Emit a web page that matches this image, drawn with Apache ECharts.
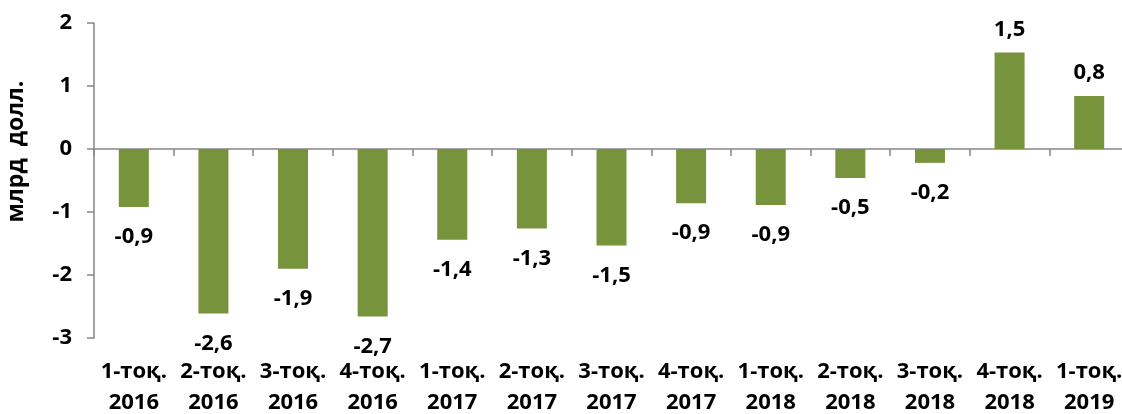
<!DOCTYPE html>
<html>
<head>
<meta charset="utf-8">
<script src="https://cdn.jsdelivr.net/npm/echarts@6/dist/echarts.min.js"></script>
<style>
  html, body { margin: 0; padding: 0; background: #fff; }
  #chart { width: 1122px; height: 414px; }
</style>
</head>
<body>
<div id="chart"></div>
<script>
// кварталы
const quarters = ['1-тоқ.', '2-тоқ.', '3-тоқ.', '4-тоқ.', '1-тоқ.', '2-тоқ.', '3-тоқ.', '4-тоқ.', '1-тоқ.', '2-тоқ.', '3-тоқ.', '4-тоқ.', '1-тоқ.']
const years = ['2016', '2016', '2016', '2016', '2017', '2017', '2017', '2017', '2018', '2018', '2018', '2018', '2019']
// сальдо, млрд долл.
const balance = [-0.92, -2.61, -1.9, -2.66, -1.44, -1.26, -1.53, -0.86, -0.89, -0.46, -0.22, 1.53, 0.84]
const yTicks = { min: -3, max: 2, interval: 1 }

const categories = quarters.map((q, i) => q + '\n' + years[i])
const fontFamily = '"Open Sans", "Liberation Sans", sans-serif'

const chart = echarts.init(document.getElementById('chart'))
chart.setOption({
  backgroundColor: '#fff',
  animation: false,
  grid: {
    left: 94,
    right: -7,
    top: 23,
    bottom: 76,
    outerBoundsMode: 'none'
  },
  xAxis: [
    {
      // линия нуля с засечками
      type: 'category',
      position: 'bottom',
      data: categories,
      axisLine: { onZero: true, lineStyle: { color: '#868686', width: 1.5 } },
      axisTick: { show: true, length: 7, lineStyle: { color: '#868686', width: 1.5 } },
      axisLabel: { show: false }
    },
    {
      // подписи внизу
      type: 'category',
      position: 'bottom',
      data: categories,
      axisLine: { show: false, onZero: false },
      axisTick: { show: false },
      axisLabel: {
        color: '#000',
        fontSize: 22,
        fontWeight: 'bold',
        fontFamily: fontFamily,
        lineHeight: 31,
        margin: 18,
        interval: 0
      }
    }
  ],
  yAxis: {
    type: 'value',
    min: yTicks.min,
    max: yTicks.max,
    interval: yTicks.interval,
    name: 'млрд  долл.',
    nameLocation: 'middle',
    nameGap: 66,
    nameTextStyle: {
      color: '#000',
      fontSize: 23,
      fontWeight: 'bold',
      fontFamily: fontFamily,
      padding: [0, 0, 0, 58]
    },
    axisLine: { show: true, lineStyle: { color: '#868686', width: 1.5 } },
    axisTick: { show: true, length: 7, lineStyle: { color: '#868686', width: 1.5 } },
    splitLine: { show: false },
    axisLabel: {
      color: '#000',
      fontSize: 22,
      fontWeight: 'bold',
      fontFamily: fontFamily,
      margin: 22
    }
  },
  series: [
    {
      type: 'bar',
      xAxisIndex: 0,
      barWidth: 30,
      itemStyle: { color: '#77933C' },
      label: {
        show: true,
        position: 'outside',
        color: '#000',
        fontSize: 22,
        fontWeight: 'bold',
        fontFamily: fontFamily,
        formatter: p => p.value.toFixed(1).replace('.', ',')
      },
      data: balance.map(v => ({ value: v, label: { distance: v < 0 ? 19 : 12 } }))
    }
  ]
})
</script>
</body>
</html>
